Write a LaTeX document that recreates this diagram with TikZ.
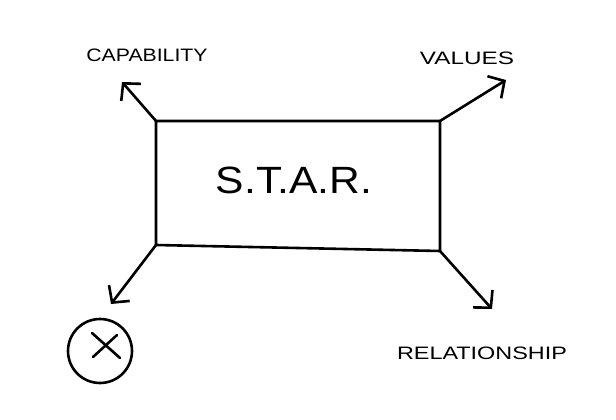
\documentclass[tikz,border=0pt]{standalone}
\usepackage{fontspec}
\setmainfont{Liberation Sans}
\usetikzlibrary{arrows.meta}
\begin{document}
\begin{tikzpicture}[x=1pt,y=-1pt,line cap=round,line join=round,
  ink/.style={line width=2.6pt,black},
  arr/.style={ink,-{Straight Barb[length=12pt,width=26pt,line width=2.6pt]}},
  lbl/.style={inner sep=0pt,font=\fontsize{18}{18}\selectfont}]
\useasboundingbox (0,0) rectangle (616,420);
\coordinate (tl) at (156,121);
\coordinate (tr) at (440,121);
\coordinate (br) at (440,251);
\coordinate (bl) at (156,245);
\draw[ink] (tl) -- (tr) -- (br) -- (bl) -- cycle;
\node[inner sep=0pt,xscale=1.12,font=\fontsize{38}{38}\selectfont] (star) at (294,180) {S.T.A.R.};
\coordinate (capend) at (122,82);
\coordinate (valend) at (506,80);
\coordinate (xend) at (111,304);
\coordinate (relend) at (492,309);
\draw[arr] (tl) -- (capend);
\draw[arr] (tr) -- (valend);
\draw[arr] (bl) -- (xend);
\draw[arr] (br) -- (relend);
\node[lbl,xscale=1.18] (cap) at (147,55) {CAPABILITY};
\node[lbl,xscale=1.35] (val) at (467,58) {VALUES};
\node[lbl,xscale=1.3] (rel) at (482,353) {RELATIONSHIP};
\node[ink,draw,circle,minimum size=64pt,inner sep=0pt] (x) at (100,351) {};
\draw[ink] (92,333) -- (120,358);
\draw[ink] (117,335) -- (93,357);
\end{tikzpicture}
\end{document}
